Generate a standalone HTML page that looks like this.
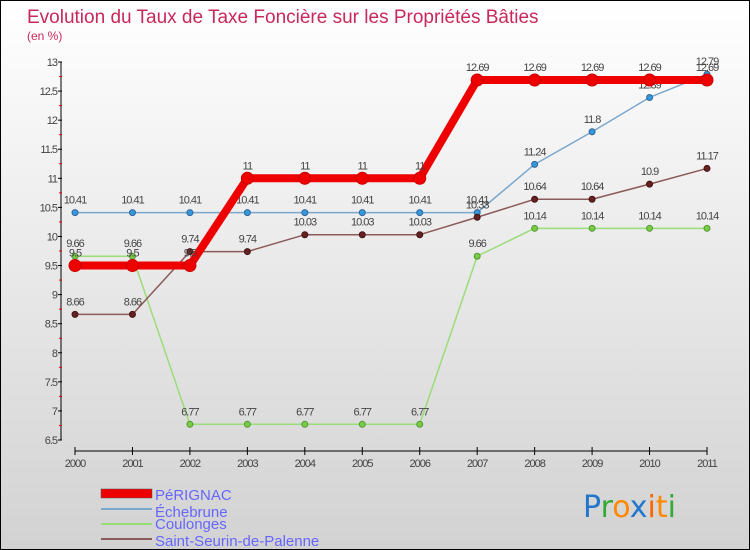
<!DOCTYPE html>
<html><head><meta charset="utf-8"><style>
html,body{margin:0;padding:0}
body{width:750px;height:550px;overflow:hidden;font-family:"Liberation Sans",sans-serif}
#wrap{position:relative;width:748px;height:548px;border:1px solid #000;background:linear-gradient(#ffffff,#d2d2d2)}
</style></head><body>
<div id="wrap">
<svg id="c" width="748" height="548" style="position:absolute;left:0;top:0">
<text x="26" y="22" font-size="19" fill="#c8285a">Evolution du Taux de Taxe Foncière sur les Propriétés Bâties</text>
<text x="26" y="39" font-size="12" fill="#c8285a">(en %)</text>
<g id="axes"></g><g id="series"></g>
<g>
<rect x="100" y="488" width="51" height="9" fill="#ee0000" stroke="#555" stroke-width="0.5"/>
<text x="154" y="499" font-size="15" fill="#6666ff">PéRIGNAC</text>
<line x1="100" y1="508" x2="151" y2="508" stroke="#7aa7cc" stroke-width="2"/>
<text x="154" y="516" font-size="15" fill="#6666ff">Échebrune</text>
<line x1="100" y1="523" x2="151" y2="523" stroke="#99dd77" stroke-width="2"/>
<text x="154" y="528" font-size="15" fill="#6666ff">Coulonges</text>
<line x1="100" y1="538" x2="151" y2="538" stroke="#8b5a5a" stroke-width="2"/>
<text x="154" y="545" font-size="15" fill="#6666ff">Saint-Seurin-de-Palenne</text>
</g>
<g font-size="30" font-family="'DejaVu Sans',sans-serif">
<text x="582" y="516"><tspan fill="#2277cc">P</tspan><tspan fill="#33aa33">r</tspan><tspan fill="#ff8800">o</tspan><tspan fill="#2277cc">x</tspan><tspan fill="#ff6600">i</tspan><tspan fill="#ff8800">t</tspan><tspan fill="#33aa33">i</tspan></text>
</g>
</svg>
</div>
<script>
const years=["2000","2001","2002","2003","2004","2005","2006","2007","2008","2009","2010","2011"];
const yTicks=[6.5,7,7.5,8,8.5,9,9.5,10,10.5,11,11.5,12,12.5,13];
const perignac=[9.5,9.5,9.5,11,11,11,11,12.69,12.69,12.69,12.69,12.69];
const echebrune=[10.41,10.41,10.41,10.41,10.41,10.41,10.41,10.41,11.24,11.8,12.39,12.79];
const coulonges=[9.66,9.66,6.77,6.77,6.77,6.77,6.77,9.66,10.14,10.14,10.14,10.14];
const saintSeurin=[8.66,8.66,9.74,9.74,10.03,10.03,10.03,10.33,10.64,10.64,10.9,11.17];
const NS="http://www.w3.org/2000/svg";
const X=i=>74+i*(632/11);
const Y=v=>439-(v-6.5)*(378/6.5);
function mk(t,a,p){const e=document.createElementNS(NS,t);for(const k in a)e.setAttribute(k,a[k]);p.appendChild(e);return e;}
const ax=document.getElementById('axes');
const yl=mk('line',{x1:60,y1:Y(13),x2:60,y2:Y(6.5),stroke:'#000'},ax);


yTicks.forEach((v,i)=>{
 mk('line',{x1:57,y1:Y(v),x2:61,y2:Y(v),stroke:'#000'},ax);
 if(i<yTicks.length-1)mk('line',{x1:58,y1:Y(v+0.25),x2:61,y2:Y(v+0.25),stroke:'#e00'},ax);
 const t=mk('text',{x:56,y:Y(v)+4,'font-size':11,fill:'#444','text-anchor':'end','letter-spacing':'-1'},ax);
 t.textContent=String(v);
 
 
});
const xl=mk('line',{x1:X(0),y1:450,x2:X(11),y2:450,stroke:'#000'},ax);


years.forEach((y,i)=>{
 mk('line',{x1:X(i),y1:446,x2:X(i),y2:454,stroke:'#000'},ax);
 const t=mk('text',{x:X(i),y:466,'font-size':11,fill:'#444','text-anchor':'middle','letter-spacing':'-1'},ax);
 t.textContent=y;
 
 
});
const sg=document.getElementById('series');
function draw(vals,name,col,w,r,dot,dotStroke){
 const g=mk('g',{},sg);
 
 
 const pl=mk('polyline',{points:vals.map((v,i)=>X(i)+','+Y(v)).join(' '),fill:'none',stroke:col,'stroke-width':w,'stroke-linejoin':'round'},g);
 
 
 vals.forEach((v,i)=>{
  const c=mk('circle',{cx:X(i),cy:Y(v),r:r,fill:dot,stroke:dotStroke,'stroke-width':1},g);
  
  
  const t=mk('text',{x:X(i),y:Y(v)-9,'font-size':11,fill:'#444','text-anchor':'middle','letter-spacing':'-1'},g);
  t.textContent=String(v);
  
  
 });
}
draw(echebrune,'echebrune','#7aa7cc',1.5,3,'#3399dd','#336699');
draw(coulonges,'coulonges','#99dd77',1.5,3,'#77cc44','#559933');
draw(saintSeurin,'saint-seurin','#8b5a5a',1.5,3,'#662222','#441111');
draw(perignac,'perignac','#ee0000',8,6,'#ee0000','#cc0000');
</script>
</body></html>
